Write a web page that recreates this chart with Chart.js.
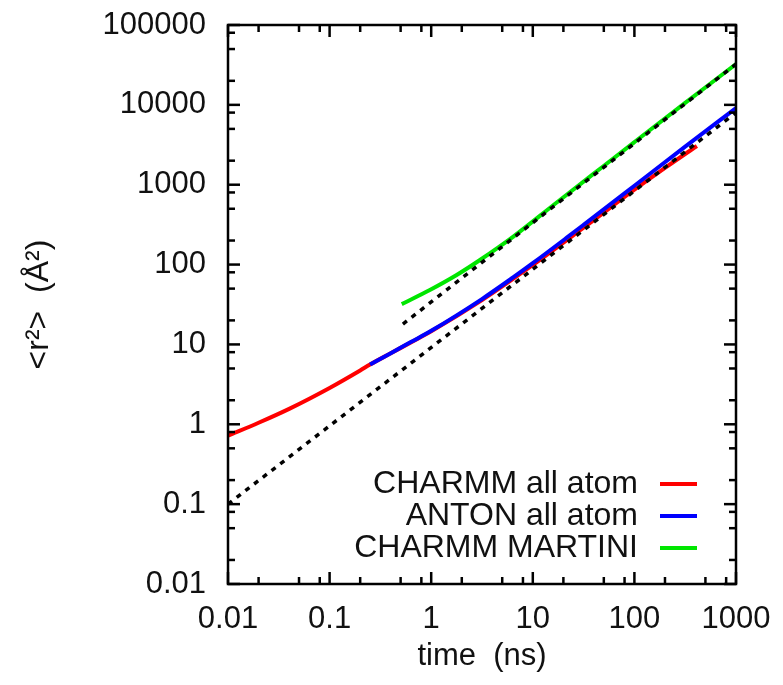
<!DOCTYPE html>
<html><head><meta charset="utf-8">
<script src="https://cdn.jsdelivr.net/npm/chart.js@4.4.1/dist/chart.umd.min.js"></script>
<style>html,body{margin:0;padding:0;background:#fff;} canvas{display:block;}</style>
</head><body>
<canvas id="c" width="783" height="685"></canvas>
<script>
// ---- data ----
const xTickValues = [0.01, 0.1, 1, 10, 100, 1000];
const xTickLabels = ['0.01', '0.1', '1', '10', '100', '1000'];
const yTickValues = [0.01, 0.1, 1, 10, 100, 1000, 10000, 100000];
const yTickLabels = ['0.01', '0.1', '1', '10', '100', '1000', '10000', '100000'];
const minorFactors = [2, 5, 8];

const seriesNames = ['CHARMM all atom', 'ANTON all atom', 'CHARMM MARTINI'];
const seriesColors = ['#ff0000', '#0000ff', '#00e600'];

const redTime = [0.01, 0.02, 0.04, 0.1, 0.2, 0.25, 0.4, 0.63, 1, 3.16, 10, 31.6, 100, 200, 412];
const redMSD  = [0.72, 1.045, 1.56, 2.85, 4.72, 5.6, 7.75, 10.6, 14.6, 35.9, 99, 290, 865, 1625, 3055];

const blueTime = [0.25, 0.4, 0.63, 1, 3.16, 6.4, 10, 21.6, 31.6, 100, 316, 1000];
const blueMSD  = [5.62, 7.78, 10.7, 14.8, 37, 69, 104, 217, 314, 970, 3000, 9100];

const greenTime = [0.513, 0.97, 1.78, 3.02, 6.43, 17.2, 39.8, 100, 316, 1000];
const greenMSD  = [32, 48, 74, 114, 224, 598, 1374, 3420, 10600, 32400];

const fitLowTime  = [0.01, 1000];
const fitLowMSD   = [0.1, 8000];
const fitHighTime = [0.527, 1000];
const fitHighMSD  = [18, 32400];

// ---- chart ----
const FONT = "'Liberation Sans', Arial, sans-serif";
const pts = (xs, ys) => xs.map((x, i) => ({x: x, y: ys[i]}));

const lineDs = (data, color, label) => ({
  label: label, data: data, borderColor: color, backgroundColor: color,
  borderWidth: 4, pointRadius: 0, showLine: true, fill: false,
  cubicInterpolationMode: 'monotone'
});
const dotDs = (data) => ({
  label: '', data: data, borderColor: '#000', borderWidth: 3.5,
  borderDash: [5, 6], pointRadius: 0, showLine: true, fill: false
});

const framePlugin = {
  id: 'frame',
  afterDraw(chart) {
    const ctx = chart.ctx, a = chart.chartArea;
    const xs = chart.scales.x, ys = chart.scales.y;
    ctx.save();
    ctx.strokeStyle = '#000';
    ctx.lineWidth = 2.5;
    ctx.strokeRect(a.left, a.top, a.right - a.left, a.bottom - a.top);
    const tick = (x1, y1, x2, y2) => { ctx.beginPath(); ctx.moveTo(x1, y1); ctx.lineTo(x2, y2); ctx.stroke(); };
    xTickValues.forEach(d => {
      const items = [{v: d, L: 12}].concat(minorFactors.map(f => ({v: d * f, L: 7})));
      items.forEach(it => {
        if (it.v > xs.max * 1.0001) return;
        const px = xs.getPixelForValue(it.v);
        tick(px, a.bottom, px, a.bottom - it.L);
        tick(px, a.top, px, a.top + it.L);
      });
    });
    yTickValues.forEach(d => {
      const items = [{v: d, L: 12}].concat(minorFactors.map(f => ({v: d * f, L: 7})));
      items.forEach(it => {
        if (it.v > ys.max * 1.0001) return;
        const py = ys.getPixelForValue(it.v);
        tick(a.left, py, a.left + it.L, py);
        tick(a.right, py, a.right - it.L, py);
      });
    });
    // legend
    const rows = [484, 516, 548];
    ctx.font = '32px ' + FONT;
    ctx.textAlign = 'right';
    ctx.textBaseline = 'middle';
    ctx.fillStyle = '#111';
    seriesNames.forEach((name, i) => {
      ctx.fillText(name, 638, rows[i]);
      ctx.strokeStyle = seriesColors[i];
      ctx.lineWidth = 4;
      tick(660, rows[i], 697, rows[i]);
    });
    ctx.restore();
  }
};

new Chart(document.getElementById('c'), {
  type: 'scatter',
  data: {
    datasets: [
      dotDs(pts(fitLowTime, fitLowMSD)),
      dotDs(pts(fitHighTime, fitHighMSD)),
      lineDs(pts(blueTime, blueMSD), seriesColors[1], seriesNames[1]),
      lineDs(pts(redTime, redMSD), seriesColors[0], seriesNames[0]),
      lineDs(pts(greenTime, greenMSD), seriesColors[2], seriesNames[2])
    ]
  },
  options: {
    responsive: false,
    animation: false,
    devicePixelRatio: 1,
    layout: {padding: {left: 0, top: 25, right: 47, bottom: 10}},
    plugins: {legend: {display: false}, tooltip: {enabled: false}},
    scales: {
      x: {
        type: 'logarithmic', min: 0.01, max: 1000,
        afterBuildTicks: s => { s.ticks = xTickValues.map(v => ({value: v})); },
        afterFit: s => { s.height = 91; s.paddingLeft = 0; s.paddingRight = 0; },
        ticks: {
          callback: (v) => { const i = xTickValues.findIndex(t => Math.abs(t - v) / t < 1e-6); return i >= 0 ? xTickLabels[i] : ''; },
          font: {family: FONT, size: 31}, color: '#111', maxRotation: 0, autoSkip: false, padding: 17
        },
        grid: {display: false, drawTicks: false},
        border: {display: false},
        title: {display: true, text: 'time  (ns)', font: {family: FONT, size: 31}, color: '#111', padding: {top: 0, bottom: 0}}
      },
      y: {
        type: 'logarithmic', min: 0.01, max: 100000,
        afterBuildTicks: s => { s.ticks = yTickValues.map(v => ({value: v})); },
        afterFit: s => { s.width = 228; s.paddingTop = 0; s.paddingBottom = 0; },
        ticks: {
          callback: (v) => { const i = yTickValues.findIndex(t => Math.abs(t - v) / t < 1e-6); return i >= 0 ? yTickLabels[i] : ''; },
          font: {family: FONT, size: 31}, color: '#111', autoSkip: false, padding: 22
        },
        grid: {display: false, drawTicks: false},
        border: {display: false},
        title: {display: true, text: '<r²>  (Å²)', font: {family: FONT, size: 32}, color: '#111', padding: {top: 20, bottom: 0}}
      }
    }
  },
  plugins: [framePlugin]
});
</script>
</body></html>
